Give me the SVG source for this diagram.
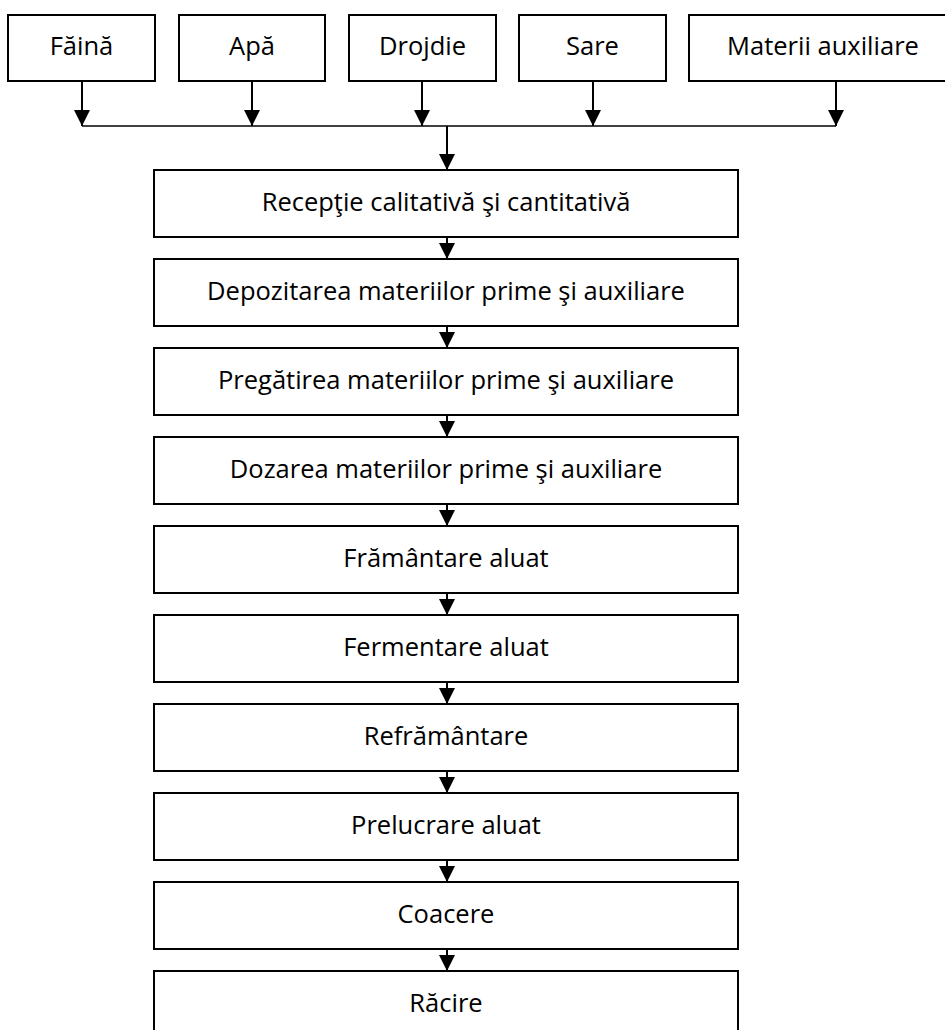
<svg xmlns="http://www.w3.org/2000/svg" width="945" height="1030" viewBox="0 0 945 1030">
<style>
.box{fill:#fff;stroke:#000;stroke-width:2}
.lbl{font-family:"Open Sans","Noto Sans","Liberation Sans",sans-serif;font-size:25.5px;fill:#000;text-anchor:middle}
.con{stroke:#000;stroke-width:2;fill:none}
</style>
<defs>
<marker id="ah" markerUnits="userSpaceOnUse" markerWidth="16" markerHeight="16" viewBox="0 0 16 16" refX="16" refY="8" orient="auto">
<path d="M0,0 L16,8 L0,16 z" fill="#000"/>
</marker>
</defs>
<rect width="945" height="1030" fill="#fff"/>
<g id="in1"><rect class="box" x="8" y="15" width="147" height="66"/><text class="lbl" x="81.5" y="55">Făină</text></g>
<g id="in2"><rect class="box" x="179" y="15" width="146" height="66"/><text class="lbl" x="252" y="55">Apă</text></g>
<g id="in3"><rect class="box" x="349" y="15" width="147" height="66"/><text class="lbl" x="422.5" y="55">Drojdie</text></g>
<g id="in4"><rect class="box" x="519" y="15" width="147" height="66"/><text class="lbl" x="592.5" y="55">Sare</text></g>
<g id="in5"><rect class="box" x="689" y="15" width="268" height="66"/><text class="lbl" x="823" y="55">Materii auxiliare</text></g>
<g id="s1"><rect class="box" x="154" y="170" width="584" height="67"/><text class="lbl" x="446" y="211">Recepţie calitativă şi cantitativă</text></g>
<g id="s2"><rect class="box" x="154" y="259" width="584" height="67"/><text class="lbl" x="446" y="300">Depozitarea materiilor prime şi auxiliare</text></g>
<g id="s3"><rect class="box" x="154" y="348" width="584" height="67"/><text class="lbl" x="446" y="389">Pregătirea materiilor prime şi auxiliare</text></g>
<g id="s4"><rect class="box" x="154" y="437" width="584" height="67"/><text class="lbl" x="446" y="478">Dozarea materiilor prime şi auxiliare</text></g>
<g id="s5"><rect class="box" x="154" y="526" width="584" height="67"/><text class="lbl" x="446" y="567">Frământare aluat</text></g>
<g id="s6"><rect class="box" x="154" y="615" width="584" height="67"/><text class="lbl" x="446" y="656">Fermentare aluat</text></g>
<g id="s7"><rect class="box" x="154" y="704" width="584" height="67"/><text class="lbl" x="446" y="745">Refrământare</text></g>
<g id="s8"><rect class="box" x="154" y="793" width="584" height="67"/><text class="lbl" x="446" y="834">Prelucrare aluat</text></g>
<g id="s9"><rect class="box" x="154" y="882" width="584" height="67"/><text class="lbl" x="446" y="923">Coacere</text></g>
<g id="s10"><rect class="box" x="154" y="971" width="584" height="67"/><text class="lbl" x="446" y="1012">Răcire</text></g>
<g id="connectors">
<line class="con" x1="82" y1="81" x2="82" y2="126" marker-end="url(#ah)"/>
<line class="con" x1="252" y1="81" x2="252" y2="126" marker-end="url(#ah)"/>
<line class="con" x1="422" y1="81" x2="422" y2="126" marker-end="url(#ah)"/>
<line class="con" x1="593" y1="81" x2="593" y2="126" marker-end="url(#ah)"/>
<line class="con" x1="836" y1="81" x2="836" y2="126" marker-end="url(#ah)"/>
<line class="con" x1="82" y1="126" x2="836" y2="126" style="stroke-width:1.5"/>
<line class="con" x1="447" y1="126" x2="447" y2="170" marker-end="url(#ah)"/>
<line class="con" x1="447" y1="237" x2="447" y2="259" marker-end="url(#ah)"/>
<line class="con" x1="447" y1="326" x2="447" y2="348" marker-end="url(#ah)"/>
<line class="con" x1="447" y1="415" x2="447" y2="437" marker-end="url(#ah)"/>
<line class="con" x1="447" y1="504" x2="447" y2="526" marker-end="url(#ah)"/>
<line class="con" x1="447" y1="593" x2="447" y2="615" marker-end="url(#ah)"/>
<line class="con" x1="447" y1="682" x2="447" y2="704" marker-end="url(#ah)"/>
<line class="con" x1="447" y1="771" x2="447" y2="793" marker-end="url(#ah)"/>
<line class="con" x1="447" y1="860" x2="447" y2="882" marker-end="url(#ah)"/>
<line class="con" x1="447" y1="949" x2="447" y2="971" marker-end="url(#ah)"/>
</g>
</svg>
